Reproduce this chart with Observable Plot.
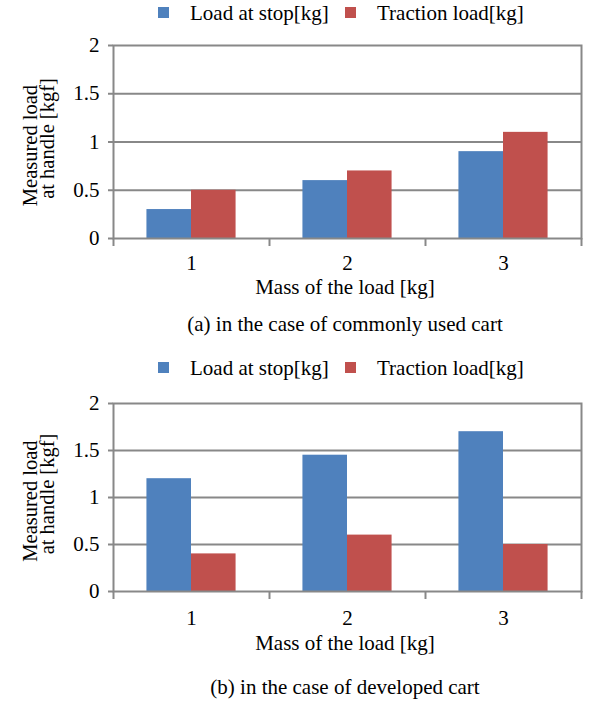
<!DOCTYPE html>
<html>
<head>
<meta charset="utf-8">
<script src="https://cdn.jsdelivr.net/npm/d3@7"></script>
<script src="https://cdn.jsdelivr.net/npm/@observablehq/plot@0.6"></script>
<style>
  html, body { margin: 0; padding: 0; background: #fff; }
  #root { position: relative; width: 590px; height: 711px; overflow: hidden; }
  #root svg { display: block; }
  #root svg, #root svg text { font-family: "Liberation Serif", "Times New Roman", serif !important; }
</style>
</head>
<body>
<div id="root"></div>
<script>
// ---- data ----
const masses = [1, 2, 3];
const seriesNames = ["Load at stop[kg]", "Traction load[kg]"];
const seriesColors = ["#4f81bd", "#c0504d"];
const commonStop = [0.3, 0.6, 0.9];
const commonTraction = [0.5, 0.7, 1.1];
const developedStop = [1.2, 1.45, 1.7];
const developedTraction = [0.4, 0.6, 0.5];
const yTicks = [0, 0.5, 1, 1.5, 2];
const categoryEdges = [0.5, 1.5, 2.5, 3.5];
const yTitleLines = ["Measured load", "at handle [kgf]"];
const xTitle = "Mass of the load [kg]";
const captions = ["(a) in the case of commonly used cart", "(b) in the case of developed cart"];

// ---- style ----
const FONT = "Liberation Serif, Times New Roman, serif";
const GRAY = "#888888";
const gapWidth = 1.5; // Excel-like gap width
const barW = 1 / (seriesNames.length + gapWidth);

function makeChart(stop, traction, cfg) {
  const rows = masses.flatMap((m, i) => [
    {mass: m, idx: 0, series: seriesNames[0], value: stop[i]},
    {mass: m, idx: 1, series: seriesNames[1], value: traction[i]}
  ]);
  const n = seriesNames.length;
  const chart = Plot.plot({
    width: 590,
    height: cfg.height,
    marginTop: cfg.marginTop,
    marginBottom: cfg.marginBottom,
    marginLeft: 113,
    marginRight: 9,
    style: {fontSize: "21px", color: "#000", background: "#fff", overflow: "visible"},
    x: {domain: [0.5, 3.5], axis: null},
    y: {domain: [0, 2], axis: null},
    color: {domain: seriesNames, range: seriesColors},
    marks: [
      Plot.ruleY(yTicks.slice(1, -1), {stroke: GRAY, strokeWidth: 2}),
      Plot.rectY(rows, {
        x1: d => d.mass + (d.idx - n / 2) * barW,
        x2: d => d.mass + (d.idx - n / 2 + 1) * barW,
        y1: 0,
        y2: "value",
        fill: "series"
      }),
      Plot.frame({stroke: GRAY, strokeWidth: 2}),
      Plot.axisY({ticks: yTicks, tickSize: 5, tickPadding: 9, stroke: GRAY, strokeWidth: 2, label: null, fill: "#000", fontSize: 21, tickFormat: d => String(d)}),
      Plot.axisX({ticks: categoryEdges, tickSize: 8, tickFormat: () => "", stroke: GRAY, strokeWidth: 2, label: null}),
      Plot.axisX({ticks: masses, tickSize: 0, tickPadding: cfg.xLabelPad, tickFormat: d => String(d), label: null, fill: "#000", fontSize: 21})
    ]
  });

  const svg = d3.select(chart);
  const color = chart.scale("color");
  const top = cfg.marginTop;

  // legend
  const legendX = [[158, 190], [345, 377]];
  color.domain.forEach((name, i) => {
    svg.append("rect")
      .attr("x", legendX[i][0]).attr("y", top + cfg.legSquare)
      .attr("width", 11).attr("height", 11)
      .attr("fill", color.range[i]);
    svg.append("text")
      .attr("x", legendX[i][1]).attr("y", top + cfg.legBase)
      .attr("text-anchor", "start")
      .attr("font-family", FONT).attr("font-size", 21).attr("fill", "#000")
      .text(name);
  });

  // y title (two rotated lines)
  const yLine = [[37, cfg.yc + 4], [54, cfg.yc - 3]];
  yTitleLines.forEach((t, i) => {
    svg.append("text")
      .attr("transform", `translate(${yLine[i][0]},${yLine[i][1]}) rotate(-90)`)
      .attr("text-anchor", "middle")
      .attr("font-family", FONT).attr("font-size", 20.5).attr("fill", "#000")
      .text(t);
  });

  // x title and caption
  const bottom = cfg.height - cfg.marginBottom;
  svg.append("text")
    .attr("x", 345).attr("y", bottom + cfg.xTitleBase)
    .attr("text-anchor", "middle")
    .attr("font-family", FONT).attr("font-size", 21).attr("fill", "#000")
    .text(xTitle);
  svg.append("text")
    .attr("x", 345).attr("y", bottom + cfg.capBase)
    .attr("text-anchor", "middle")
    .attr("font-family", FONT).attr("font-size", 21).attr("fill", "#000")
    .text(cfg.caption);
  return chart;
}

const root = document.getElementById("root");
root.appendChild(makeChart(commonStop, commonTraction, {
  height: 345, marginTop: 45, marginBottom: 107,
  legSquare: -38, legBase: -25.5, yc: 141.5, xLabelPad: 17,
  xTitleBase: 56, capBase: 93, caption: captions[0]
}));
root.appendChild(makeChart(developedStop, developedTraction, {
  height: 366, marginTop: 58, marginBottom: 120,
  legSquare: -41, legBase: -28, yc: 497 - 345, xLabelPad: 19,
  xTitleBase: 59, capBase: 103, caption: captions[1]
}));
</script>
</body>
</html>
